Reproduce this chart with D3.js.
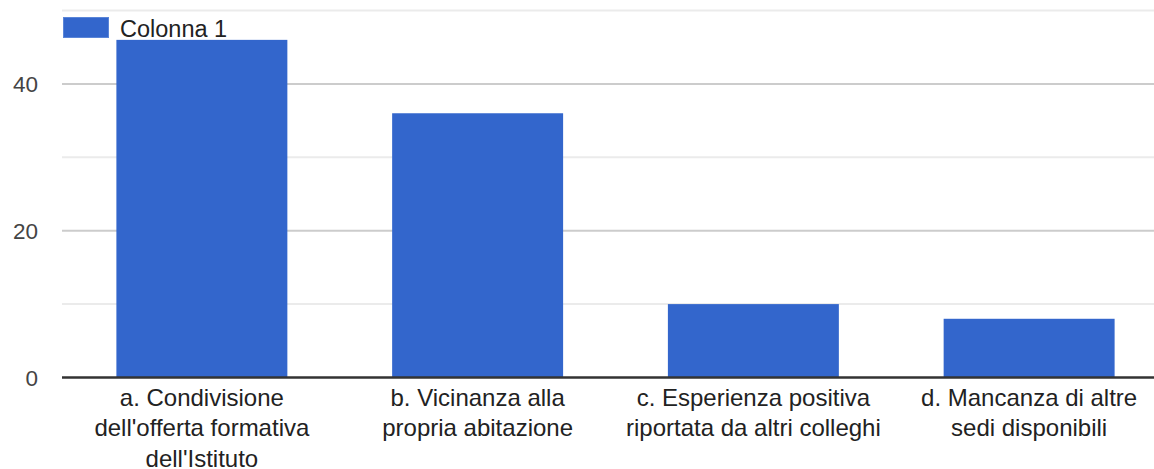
<!DOCTYPE html>
<html><head><meta charset="utf-8">
<script src="https://cdn.jsdelivr.net/npm/d3@7/dist/d3.min.js"></script>
<style>html,body{margin:0;padding:0;background:#fff;}svg{display:block;}</style>
</head><body>
<svg id="chart" width="1154" height="469"></svg>
<script>
const categories = [
  ["a. Condivisione", "dell'offerta formativa", "dell'Istituto"],
  ["b. Vicinanza alla", "propria abitazione"],
  ["c. Esperienza positiva", "riportata da altri colleghi"],
  ["d. Mancanza di altre", "sedi disponibili"]
];
const values = [46, 36, 10, 8];
const seriesName = "Colonna 1";
const gridTicks = [0, 10, 20, 30, 40, 50];
const labelTicks = [0, 20, 40];

const svg = d3.select("#chart");
const font = "Arial, 'Liberation Sans', sans-serif";
const W = 1154;

const x = d3.scaleBand().domain(d3.range(categories.length))
  .range([64, 1167]).paddingInner(0.38).paddingOuter(0.19);
const y = d3.scaleLinear().domain([0, 50]).range([377.5, 10.5]);

// gridlines
svg.append("g").selectAll("line").data(gridTicks.filter(d => d !== 0)).join("line")
  .attr("x1", 62).attr("x2", W)
  .attr("y1", d => y(d)).attr("y2", d => y(d))
  .attr("stroke", d => labelTicks.includes(d) ? "#cccccc" : "#ebebeb")
  .attr("stroke-width", 2);

// y labels
svg.append("g").selectAll("text").data(labelTicks).join("text")
  .attr("x", 38).attr("y", d => y(d)).attr("dy", "0.36em")
  .attr("text-anchor", "end").attr("font-family", font).attr("font-size", 22.5)
  .attr("fill", "#444").text(d => d);

// bars
svg.append("g").selectAll("rect").data(values).join("rect")
  .attr("x", (d, i) => x(i)).attr("width", x.bandwidth())
  .attr("y", d => y(d)).attr("height", d => y(0) - y(d))
  .attr("fill", "#3366cc");

// baseline
svg.append("line").attr("x1", 62).attr("x2", W)
  .attr("y1", y(0)).attr("y2", y(0))
  .attr("stroke", "#333").attr("stroke-width", 2.5);

// x labels
const xl = svg.append("g").selectAll("text").data(categories).join("text")
  .attr("text-anchor", "middle").attr("font-family", font).attr("font-size", 24)
  .attr("fill", "#222");
xl.selectAll("tspan").data((d, i) => d.map(t => ({t, i}))).join("tspan")
  .attr("x", d => x(d.i) + x.bandwidth() / 2)
  .attr("y", (d, j) => 405.5 + j * 30.5)
  .text(d => d.t);

// legend
const lg = svg.append("g");
lg.append("rect").attr("x", 63.5).attr("y", 17.5).attr("width", 45).attr("height", 20)
  .attr("fill", "#3366cc").attr("stroke", "#5a85d8").attr("stroke-width", 1);
lg.append("text").attr("x", 120).attr("y", 37).attr("font-family", font)
  .attr("font-size", 23.5).attr("fill", "#222").text(seriesName);
</script>
</body></html>
